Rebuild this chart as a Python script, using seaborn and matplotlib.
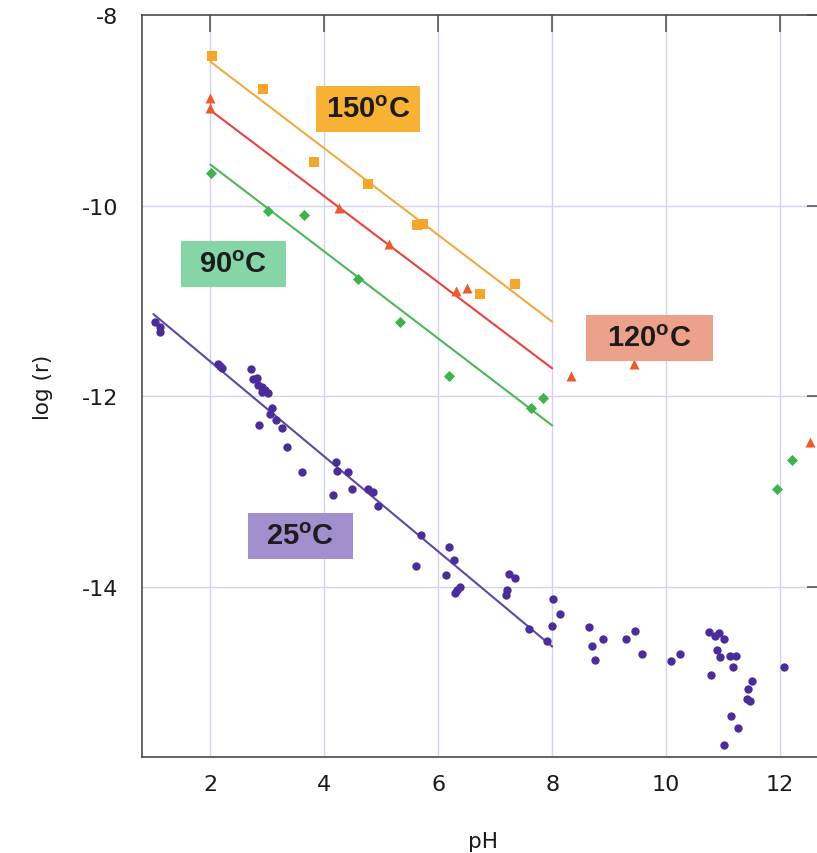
import matplotlib
matplotlib.use("Agg")
import matplotlib.pyplot as plt
import seaborn as sns
import pandas as pd
from matplotlib.patches import Rectangle

# ---- measured dissolution rates, log(r) versus pH ----
ph_25 = [1.03, 1.12, 1.12, 2.13, 2.17, 2.21, 2.71, 2.75, 2.81, 2.84, 2.90, 2.96,
         3.02, 2.90, 3.08, 3.05, 2.85, 3.15, 3.26, 3.34, 3.60, 4.20, 4.22, 4.41,
         4.15, 4.49, 4.77, 4.86, 4.95, 5.70, 5.61, 6.18, 6.27, 6.13, 6.29, 6.32,
         6.38, 7.25, 7.34, 7.20, 7.19, 7.60, 7.90, 8.02, 8.14, 7.99, 8.65, 8.70,
         8.75, 8.89, 9.30, 9.46, 9.58, 10.08, 10.25, 10.75, 10.86, 10.92, 11.02,
         10.90, 10.95, 11.12, 11.22, 11.17, 10.78, 11.51, 11.44, 11.42, 11.47,
         11.14, 11.26, 11.02, 12.06]
logr_25 = [-11.22, -11.28, -11.33, -11.66, -11.69, -11.71, -11.72, -11.82, -11.81,
           -11.88, -11.91, -11.94, -11.97, -11.96, -12.13, -12.19, -12.30, -12.25,
           -12.34, -12.54, -12.80, -12.69, -12.79, -12.80, -13.04, -12.98, -12.98,
           -13.01, -13.15, -13.46, -13.78, -13.59, -13.72, -13.88, -14.07, -14.04,
           -14.01, -13.87, -13.91, -14.04, -14.09, -14.45, -14.57, -14.13, -14.29,
           -14.41, -14.42, -14.62, -14.77, -14.55, -14.55, -14.47, -14.71, -14.78,
           -14.71, -14.48, -14.52, -14.49, -14.55, -14.67, -14.74, -14.73, -14.73,
           -14.84, -14.93, -14.99, -15.08, -15.18, -15.20, -15.36, -15.49, -15.66,
           -14.84]

ph_90 = [2.01, 3.02, 3.65, 4.59, 5.33, 6.19, 7.63, 7.84, 11.94, 12.21]
logr_90 = [-9.66, -10.06, -10.10, -10.77, -11.22, -11.79, -12.13, -12.02, -12.98, -12.67]

ph_120 = [2.00, 2.00, 4.25, 5.13, 6.31, 6.50, 8.33, 9.44, 12.53]
logr_120 = [-8.87, -8.98, -10.03, -10.40, -10.90, -10.87, -11.785, -11.66, -12.48]

ph_150 = [2.03, 2.93, 3.82, 4.77, 5.63, 5.73, 6.74, 7.35]
logr_150 = [-8.43, -8.78, -9.54, -9.77, -10.20, -10.19, -10.93, -10.82]

# ---- linear rate laws (end points of each fitted line) ----
fit_ph_25 = [1.0, 8.0]
fit_25 = [-11.14, -14.63]
fit_ph = [2.0, 8.0]
fit_90 = [-9.57, -12.31]
fit_120 = [-9.00, -11.71]
fit_150 = [-8.49, -11.22]

# ---- temperature labels: text, centre (pH, log r), box width in pH units ----
label_text = ["150$^\\mathregular{o}$C", "90$^\\mathregular{o}$C",
              "120$^\\mathregular{o}$C", "25$^\\mathregular{o}$C"]
label_ph = [4.767, 2.404, 9.705, 3.582]
label_logr = [-8.983, -10.613, -11.386, -13.472]
label_width = [1.82, 1.84, 2.23, 1.83]
label_color = ["#f8b233", "#85d5a6", "#eca18a", "#a08ecd"]

x_ticks = [2, 4, 6, 8, 10, 12]
y_ticks = [-8, -10, -12, -14]

sns.set_theme(style="white")
plt.rcParams["font.family"] = ["DejaVu Sans"]
plt.rcParams["axes.unicode_minus"] = False

fig = plt.figure(figsize=(8.17, 8.54), dpi=100)
ax = fig.add_axes([142 / 817, 96 / 854, 682 / 817, 742 / 854])

grid_col = "#d2d2ee"
for xv in x_ticks:
    ax.axvline(xv, color=grid_col, lw=1.0, zorder=0)
for yv in y_ticks[1:]:
    ax.axhline(yv, color=grid_col, lw=1.0, zorder=0)

# fitted lines
line_kw = dict(lw=1.5, ax=ax, legend=False, zorder=2)
sns.lineplot(x=fit_ph_25, y=fit_25, color="#5a4aa8", **line_kw)
sns.lineplot(x=fit_ph, y=fit_90, color="#4cb858", **line_kw)
sns.lineplot(x=fit_ph, y=fit_120, color="#e8423e", **line_kw)
sns.lineplot(x=fit_ph, y=fit_150, color="#f2aa3c", **line_kw)

# data points
pt_kw = dict(ax=ax, linewidth=0, legend=False, zorder=3)
sns.scatterplot(x=ph_25, y=logr_25, marker="o", s=36, color="#4a2c9a", **pt_kw)
sns.scatterplot(x=ph_90, y=logr_90, marker="D", s=32, color="#3db44a", **pt_kw)
sns.scatterplot(x=ph_120, y=logr_120, marker="^", s=52, color="#f05a28", **pt_kw)
sns.scatterplot(x=ph_150, y=logr_150, marker="s", s=48, color="#f7a42a", **pt_kw)

# temperature labels
box_h = 0.483
for txt, px, py, w, c in zip(label_text, label_ph, label_logr, label_width, label_color):
    ax.add_patch(Rectangle((px - w / 2, py - box_h / 2), w, box_h,
                           facecolor=c, edgecolor="none", zorder=4))
    ax.text(px, py, txt, ha="center", va="center", fontsize=21, fontweight="bold",
            family=["Liberation Sans", "DejaVu Sans"], color="#1c1c1c", zorder=5)

ax.set_xlim(0.80, 12.77)
ax.set_ylim(-15.79, -8.0)
ax.set_xticks(x_ticks)
ax.set_yticks(y_ticks)
ax.tick_params(axis="both", direction="in", length=12, width=1.1, color="#4a4a4a",
               top=True, right=True, labelsize=16, labelcolor="#1a1a1a")
ax.tick_params(axis="x", pad=12)
ax.tick_params(axis="y", pad=17)
for sp in ax.spines.values():
    sp.set_color("#4a4a4a")
    sp.set_linewidth(1.2)

ax.set_xlabel("pH", fontsize=15.5, color="#1a1a1a")
ax.set_ylabel("log (r)", fontsize=15.5, color="#1a1a1a")
ax.xaxis.set_label_coords(0.5, -0.1)
ax.yaxis.set_label_coords(-0.13, 0.5)

fig.savefig("out.png", dpi=100)
